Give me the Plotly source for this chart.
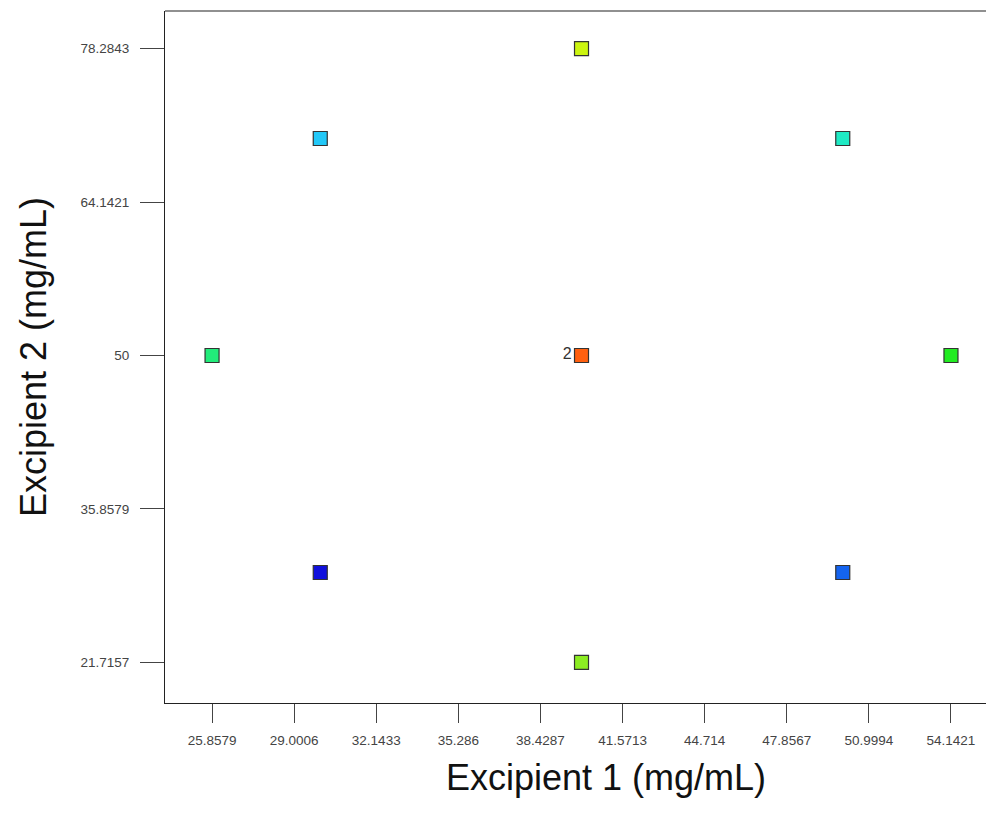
import plotly.graph_objects as go

# Design points (Excipient 1, Excipient 2) and their response colours
excipient1 = [40.0, 30.0, 50.0, 25.8579, 40.0, 54.1421, 30.0, 50.0, 40.0]
excipient2 = [78.2843, 70.0, 70.0, 50.0, 50.0, 50.0, 30.0, 30.0, 21.7157]
point_colors = ["#CCF510", "#22C8F8", "#1FEAC4", "#22EC7A", "#FF6010",
                "#22EC22", "#1010DC", "#1464F0", "#8CEC22"]
replicate_labels = ["", "", "", "", "2", "", "", "", ""]

x_ticks = [25.8579, 29.0006, 32.1433, 35.286, 38.4287, 41.5713, 44.714, 47.8567, 50.9994, 54.1421]
x_tick_text = ["25.8579", "29.0006", "32.1433", "35.286", "38.4287", "41.5713", "44.714", "47.8567", "50.9994", "54.1421"]
y_ticks = [21.7157, 35.8579, 50, 64.1421, 78.2843]
y_tick_text = ["21.7157", "35.8579", "50", "64.1421", "78.2843"]

x_title = "Excipient 1 (mg/mL)"
y_title = "Excipient 2 (mg/mL)"

fig = go.Figure()
fig.add_trace(go.Scatter(
    x=excipient1, y=excipient2, mode="markers+text",
    text=replicate_labels, textposition="middle left",
    textfont=dict(family="Arial, Liberation Sans", size=16, color="#333333"),
    marker=dict(symbol="square", size=14, color=point_colors,
                line=dict(color="#333333", width=1.2)),
    showlegend=False, cliponaxis=False,
))

tickfont = dict(family="Arial, Liberation Sans", size=13.5, color="#444444")
fig.update_xaxes(
    range=[24.057, 55.483], tickvals=x_ticks, ticktext=x_tick_text,
    ticks="outside", ticklen=19, tickcolor="#444444", tickwidth=1,
    showline=True, linecolor="#222222", linewidth=1.2,
    showgrid=False, zeroline=False, tickfont=tickfont, ticklabelstandoff=6,
)
fig.update_yaxes(
    range=[17.97, 81.75], tickvals=y_ticks, ticktext=y_tick_text,
    ticks="outside", ticklen=24, tickcolor="#444444", tickwidth=1,
    showline=True, linecolor="#222222", linewidth=1.2,
    showgrid=False, zeroline=False, tickfont=tickfont, ticklabelstandoff=8,
)
fig.add_shape(type="line", xref="paper", yref="paper", x0=0, x1=1, y0=1, y1=1,
              line=dict(color="#222222", width=1.2))

title_font = dict(family="Arial, Liberation Sans", size=36, color="#111111")
fig.add_annotation(text=x_title, xref="paper", yref="paper",
                   x=(606 - 165) / 821, y=-(777 - 703) / 692,
                   showarrow=False, font=title_font, xanchor="center", yanchor="middle")
fig.add_annotation(text=y_title, xref="paper", yref="paper",
                   x=-(165 - 33) / 821, y=(703 - 357) / 692, textangle=-90,
                   showarrow=False, font=title_font, xanchor="center", yanchor="middle")

fig.update_layout(
    width=986, height=826,
    margin=dict(l=165, r=0, t=11, b=123),
    plot_bgcolor="white", paper_bgcolor="white",
)
fig.write_html("out.html")
